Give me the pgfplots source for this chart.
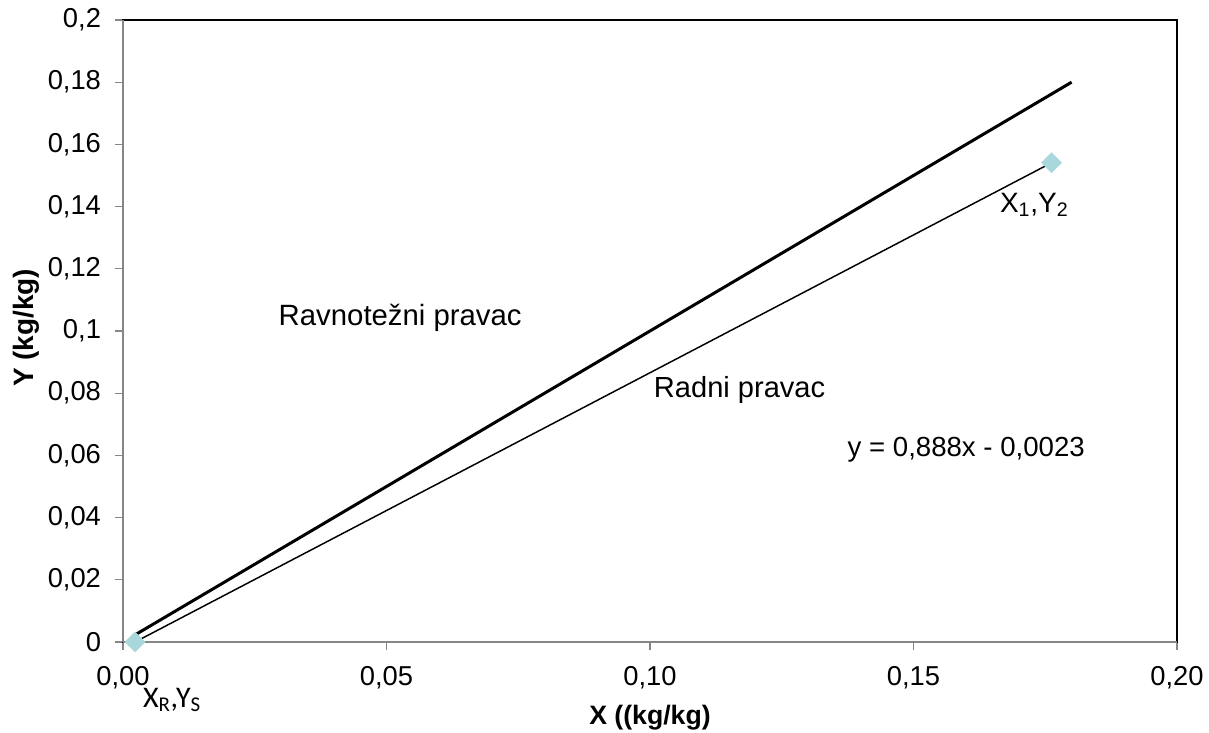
\documentclass[border=0pt]{standalone}
\usepackage{fontspec}
\setmainfont{Liberation Sans}
\newfontfamily\calibri{Carlito}
\usepackage{pgfplots}
\pgfplotsset{compat=1.18}
\definecolor{axgray}{RGB}{134,134,134}
\definecolor{markblue}{RGB}{168,216,220}

\begin{document}
\begin{tikzpicture}
\begin{axis}[
    scale only axis,
    width=790.5pt, height=466.5pt,
    xmin=0, xmax=0.2, ymin=0, ymax=0.2,
    xtick={0,0.05,0.1,0.15,0.2},
    xticklabels={{0,00},{0,05},{0,10},{0,15},{0,20}},
    ytick={0,0.02,0.04,0.06,0.08,0.1,0.12,0.14,0.16,0.18,0.2},
    yticklabels={0,{0,02},{0,04},{0,06},{0,08},{0,1},{0,12},{0,14},{0,16},{0,18},{0,2}},
    tick align=outside, xtick pos=bottom, ytick pos=left,
    major tick length=6pt,
    tick style={axgray, line width=0.8pt},
    axis line style={black, line width=1.3pt},
    ticklabel style={font=\fontsize{20.5}{22}\selectfont},
    xticklabel style={yshift=-9pt},
    yticklabel style={xshift=-7pt},
    clip=false,
]
% markers first, lines drawn over them
\addplot[only marks, mark=square*, mark size=5.3pt,
    mark options={rotate=45, fill=markblue, draw=markblue}]
  coordinates {(0.0023,0)(0.1762,0.1541)};
% ravnotezni pravac
\addplot[black, line width=2.25pt] coordinates {(0.0025,0.0025)(0.18,0.18)};
% radni pravac
\addplot[black, line width=1.1pt] coordinates {(0.0023,0.0)(0.1762,0.1541)};

\draw[axgray, line width=1.5pt] (rel axis cs:0,1) -- (rel axis cs:0,0);
\draw[axgray, line width=2pt] (rel axis cs:0,0) -- (rel axis cs:1,0);

\node[font=\fontsize{22}{24}\selectfont] at (axis cs:0.0526,0.1042) {Ravnotežni pravac};
\node[font=\fontsize{21.8}{24}\selectfont] at (axis cs:0.117,0.081) {Radni pravac};
\node[font=\fontsize{20.7}{22}\selectfont] at (axis cs:0.160,0.0617) {y = 0,888x - 0,0023};
\node[font=\fontsize{21}{24}\selectfont] at (axis cs:0.1729,0.1405) {X\textsubscript{1},Y\textsubscript{2}};
\node[font=\calibri\fontsize{22.5}{24}\selectfont] at (axis cs:0.0093,-0.0187) {X\textsubscript{R},Y\textsubscript{S}};

\node[rotate=90, font=\bfseries\fontsize{21}{23}\selectfont] at (rel axis cs:-0.092,0.505) {Y (kg/kg)};
\node[font=\bfseries\fontsize{20}{22}\selectfont] at (rel axis cs:0.5,-0.122) {X ((kg/kg)};
\end{axis}
\pgfresetboundingbox
\path[use as bounding box] ([shift={(-92.25pt,-68.25pt)}]current axis.south west) rectangle ([shift={(24pt,15pt)}]current axis.north east);
\end{tikzpicture}
\end{document}
